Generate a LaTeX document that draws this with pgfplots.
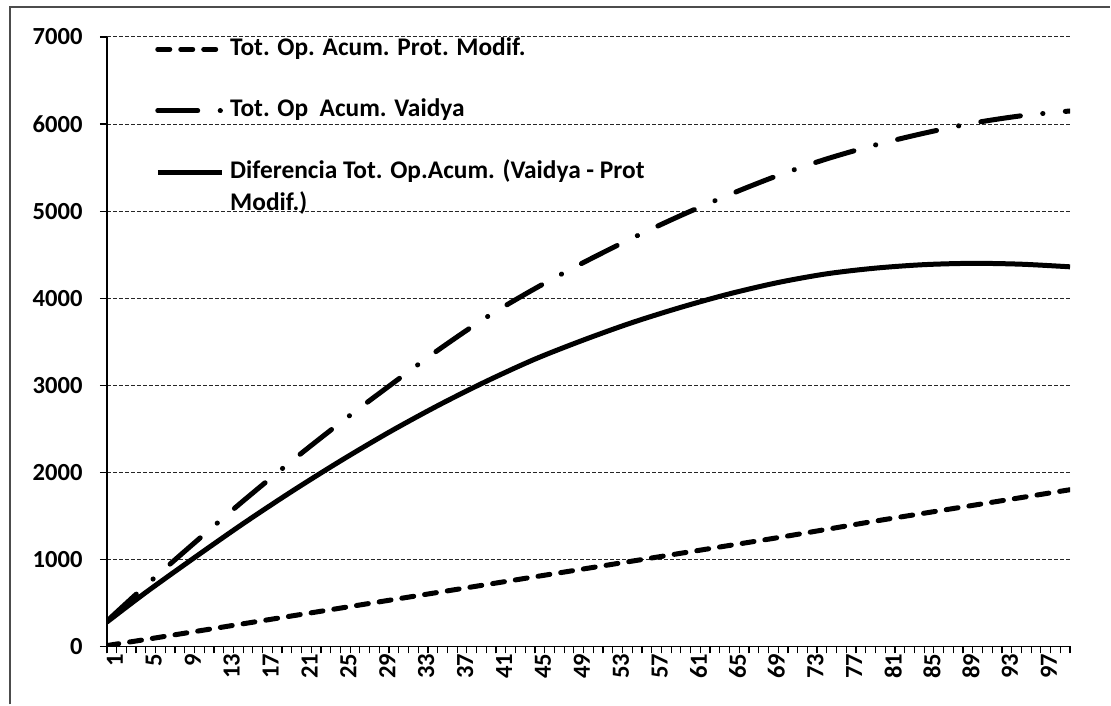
\documentclass[border=0pt]{standalone}
\usepackage{pgfplots}
\pgfplotsset{compat=1.18}
\usepackage{fontspec}
\setmainfont{Carlito}

\begin{document}
\begin{tikzpicture}
\begin{axis}[
  name=ax,
  scale only axis, width=482pt, height=305pt,
  xmin=1, xmax=100, ymin=0, ymax=7000,
  axis x line*=bottom, axis y line*=left,
  axis line style={black, line width=0.7pt},
  xtick={1,5,...,97}, minor xtick={1,...,100},
  ytick={0,1000,...,7000},
  tick align=outside, major tick length=3.5pt, minor tick length=3.5pt,
  tick style={black, line width=0.6pt},
  ymajorgrids,
  major grid style={black!85, line width=0.5pt, dash pattern=on 2pt off 1pt},
  tick label style={font=\fontsize{12.3}{14}\selectfont\bfseries},
  /pgf/number format/assume math mode=true,
  /pgf/number format/1000 sep={},
  x tick label style={rotate=90, anchor=east, inner sep=0pt, yshift=-4pt},
  y tick label style={anchor=east, inner sep=0pt, xshift=-8.5pt},
  legend cell align=left,
  legend style={at={(0.0498,1.0)}, anchor=north west, draw=none, fill=none,
    inner sep=0pt, row sep=18.75pt, column sep=3pt,
    font=\fontsize{12.7}{16}\selectfont\bfseries,
    nodes={inner sep=0pt, text height=9pt, text depth=3pt}},
  legend image code/.code={\draw[#1] (0pt,0pt) -- (32pt,0pt);},
]
% Tot. Op. Acum. Prot. Modif.
\addplot[black, line width=2.5pt, line cap=round, dash pattern=on 6pt off 5.5pt, smooth] coordinates {
(1,10) (5,80) (10,170) (15,260) (20,350) (25,440) (30,530) (35,620) (40,710)
(45,800) (50,890) (55,980) (60,1070) (65,1160) (70,1250) (75,1345) (80,1440)
(85,1530) (90,1620) (95,1710) (100,1800)
};
\addlegendentry{Tot. Op. Acum. Prot. Modif.}
% Tot. Op Acum. Vaidya
\addplot[black, line width=2.5pt, line cap=round, dash pattern=on 20pt off 11.25pt on 0.1pt off 11.25pt, smooth] coordinates {
(1,290) (5,700) (10,1190) (15,1670) (20,2130) (25,2570) (30,2990) (35,3400) (40,3780)
(45,4110) (50,4410) (55,4690) (60,4950) (65,5190) (70,5410) (75,5600) (80,5760)
(85,5895) (90,6010) (95,6095) (100,6150)
};
\addlegendentry{Tot. Op\ \ Acum. Vaidya}
% Diferencia Tot. Op.Acum.
\addplot[black, line width=2.5pt, smooth] coordinates {
(1,280) (5,620) (10,1020) (15,1410) (20,1780) (25,2130) (30,2460) (35,2765) (40,3045)
(45,3300) (50,3520) (55,3720) (60,3895) (65,4050) (70,4180) (75,4280) (80,4345)
(85,4385) (90,4400) (95,4390) (100,4360)
};
\addlegendentry{\smash{\begin{tabular}[t]{@{}l@{}}Diferencia Tot. Op.Acum. (Vaidya - Prot\\Modif.)\end{tabular}}}
\end{axis}
\draw[black!70, line width=1pt] ([shift={(-48.5pt,-29pt)}]ax.south west) -- ([shift={(-48.5pt,320pt)}]ax.south west) -- ([shift={(502pt,320pt)}]ax.south west);
\path ([shift={(-53.5pt,-29pt)}]ax.south west) rectangle ([shift={(502pt,323.5pt)}]ax.south west);
\end{tikzpicture}
\end{document}
